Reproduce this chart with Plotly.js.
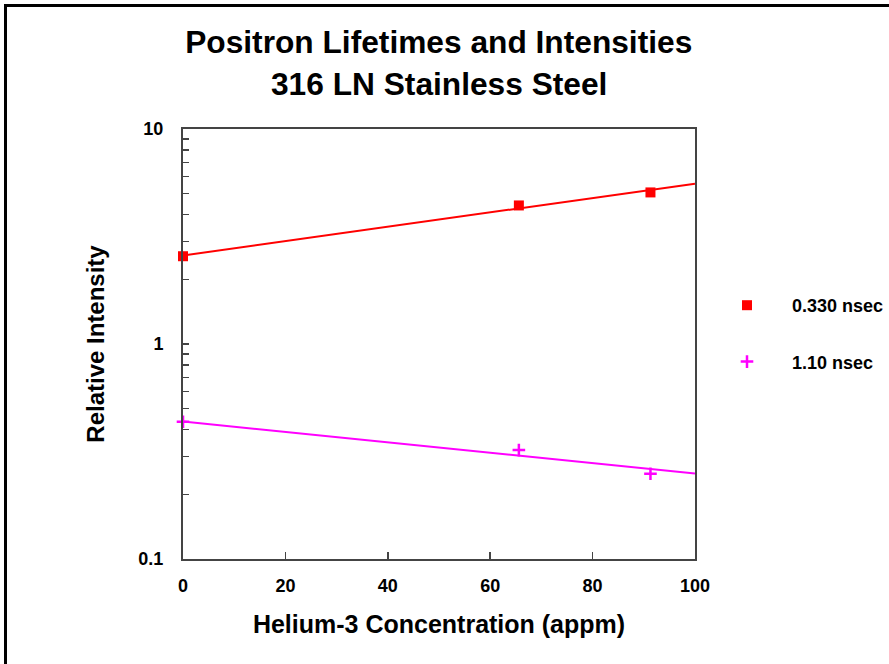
<!DOCTYPE html>
<html>
<head>
<meta charset="utf-8">
<script src="https://cdn.plot.ly/plotly-3.0.1.min.js"></script>
<style>
  html, body { margin: 0; padding: 0; background: #fff; overflow: hidden; }
  #chart { position: absolute; left: 0; top: 0; width: 889px; height: 664px; }
  #frame { position: absolute; left: 4px; top: 4px; width: 900px; height: 680px;
           border: 3px solid #000; pointer-events: none; }
</style>
</head>
<body>
<div id="chart"></div>
<div id="frame"></div>
<script>
// Data
const heConc = [0, 65.6, 91.3];                 // Helium-3 concentration (appm)
const intensityShort = [2.56, 4.41, 5.07];      // 0.330 nsec component
const intensityLong = [0.435, 0.321, 0.249];    // 1.10 nsec component
const fitX = [0, 100];
const fitShort = [2.58, 5.57];
const fitLong = [0.436, 0.25];
const seriesNames = ['0.330 nsec', '1.10 nsec'];
const yTickVals = [0.1, 0.2, 0.3, 0.4, 0.5, 0.6, 0.7, 0.8, 0.9, 1, 2, 3, 4, 5, 6, 7, 8, 9, 10];
const yTickText = ['0.1', '', '', '', '', '', '', '', '', '1', '', '', '', '', '', '', '', '', '10'];
const xTickVals = [0, 20, 40, 60, 80, 100];

const FONT = 'Arial, "Liberation Sans", Helvetica, sans-serif';
const RED = '#ff0000';
const MAG = '#ff00ff';
const AXC = '#444444';

const traces = [
  { x: fitX, y: fitShort, mode: 'lines', line: { color: RED, width: 2 }, showlegend: false, hoverinfo: 'skip' },
  { x: fitX, y: fitLong, mode: 'lines', line: { color: MAG, width: 2 }, showlegend: false, hoverinfo: 'skip' },
  { x: heConc, y: intensityShort, mode: 'markers', name: seriesNames[0], legendgroup: 'a',
    marker: { symbol: 'square', size: 10, color: RED }, cliponaxis: false },
  { x: heConc, y: intensityLong, mode: 'markers', name: seriesNames[1], legendgroup: 'b',
    marker: { symbol: 'cross-thin', size: 9, color: MAG, line: { color: MAG, width: 2.5 } }, cliponaxis: false }
];

const layout = {
  width: 889, height: 664,
  margin: { l: 183, r: 194, t: 129, b: 105 },
  paper_bgcolor: '#ffffff', plot_bgcolor: '#ffffff',
  font: { family: FONT, color: '#000' },
  title: {
    text: 'Positron Lifetimes and Intensities',
    font: { family: FONT, size: 31.7, weight: 'bold', color: '#000' },
    x: 0.4935, xanchor: 'center', y: 1 - 42 / 664, yanchor: 'middle', xref: 'container', yref: 'container'
  },
  annotations: [{
    text: '316 LN Stainless Steel', xref: 'paper', yref: 'paper',
    x: 0.5, y: (559 - 84) / 430, xanchor: 'center', yanchor: 'middle', showarrow: false,
    font: { family: FONT, size: 31.7, weight: 'bold', color: '#000' }
  }],
  xaxis: {
    range: [0, 100], tickvals: xTickVals, ticks: 'inside', ticklen: 7, tickwidth: 1.5, tickcolor: AXC,
    showline: true, linecolor: AXC, linewidth: 2, mirror: true, showgrid: false, zeroline: false,
    ticklabelstandoff: 9,
    tickfont: { family: FONT, size: 18, weight: 'bold', color: '#000' },
    title: { text: 'Helium-3 Concentration (appm)', font: { family: FONT, size: 25, weight: 'bold', color: '#000' }, standoff: 21 }
  },
  yaxis: {
    type: 'log', range: [-1, 1], tickvals: yTickVals, ticktext: yTickText,
    ticks: 'inside', ticklen: 6, tickwidth: 1.5, tickcolor: AXC,
    showline: true, linecolor: AXC, linewidth: 2, mirror: true, showgrid: false, zeroline: false,
    ticklabelstandoff: 14,
    tickfont: { family: FONT, size: 18, weight: 'bold', color: '#000' },
    title: { text: 'Relative Intensity', font: { family: FONT, size: 24, weight: 'bold', color: '#000' }, standoff: 27 }
  },
  showlegend: true,
  legend: {
    xref: 'container', yref: 'container', x: 702 / 889, y: 1 - 287 / 664, xanchor: 'left', yanchor: 'top',
    font: { family: FONT, size: 18, weight: 'bold', color: '#000' },
    traceorder: 'grouped', tracegroupgap: 30, itemwidth: 80, bgcolor: 'rgba(0,0,0,0)'
  }
};

Plotly.newPlot('chart', traces, layout, { displayModeBar: false, staticPlot: true });
</script>
</body>
</html>
